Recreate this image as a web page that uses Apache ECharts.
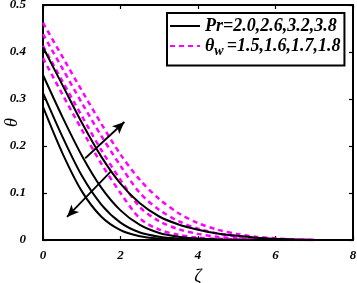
<!DOCTYPE html>
<html><head><meta charset="utf-8">
<script src="https://cdn.jsdelivr.net/npm/echarts@6/dist/echarts.min.js"></script>
<style>html,body{margin:0;padding:0;background:#fff}#c{width:357px;height:283px}</style>
</head><body><div id="c"></div>
<script>
const zeta = [0,0.5,1,1.5,2,2.5,3,3.5,4,4.5,5,5.5,6,6.5,7];
// black solid: Pr = 2.0, 2.6, 3.2, 3.8
const prA = [0.410,0.330,0.250,0.178,0.120,0.078,0.050,0.033,0.022,0.014,0.009,0.005,0.0025,0.001,0];
const prB = [0.351,0.262,0.180,0.112,0.063,0.032,0.015,0.007,0.003,0.0013,0.0005,0.0002,0,0,0];
const prC = [0.313,0.220,0.137,0.076,0.037,0.016,0.007,0.003,0.001,0.0004,0,0,0,0,0];
const prD = [0.283,0.185,0.104,0.050,0.021,0.008,0.003,0.001,0.0004,0.0001,0,0,0,0,0];
// magenta dashed: theta_w = 1.5, 1.6, 1.7, 1.8
const twA = [0.387,0.310,0.235,0.163,0.100,0.046,0.022,0.011,0.005,0.0025,0.0012,0.0006,0.0003,0.0001,0];
const twB = [0.413,0.338,0.264,0.192,0.128,0.070,0.040,0.023,0.013,0.007,0.0035,0.0018,0.0009,0.0003,0];
const twC = [0.438,0.365,0.292,0.222,0.158,0.100,0.064,0.040,0.024,0.014,0.008,0.004,0.002,0.0007,0];
const twD = [0.462,0.390,0.318,0.248,0.182,0.128,0.087,0.057,0.036,0.022,0.013,0.007,0.0035,0.0012,0];
const xTicks = [0,2,4,6,8];
const yTicks = [0,0.1,0.2,0.3,0.4,0.5];
const legendPr = 'Pr=2.0,2.6,3.2,3.8';
const legendTw = '=1.5,1.6,1.7,1.8';
// arrows in data coordinates
const arrowUp = [[1.09,0.174],[2.10,0.251]];
const arrowDown = [[1.74,0.145],[0.62,0.049]];

const pairs = a => zeta.map((z,i)=>[z,a[i]]);
const font = {fontFamily:'Liberation Serif', fontWeight:'bold', fontStyle:'italic', color:'#000'};
const blackStyle = {color:'#000', width:2, type:'solid'};
const magStyle = {color:'#ff00ff', width:2.5, type:[5,4]};
const mk = (name,data,ls,z) => ({name, type:'line', data:pairs(data), showSymbol:false, symbol:'none', smooth:0.3, lineStyle:ls, itemStyle:{color:ls.color}, z, animation:false});
const arrowLine = pts => ({silent:true, symbol:['none','arrow'], symbolSize:[8,12], lineStyle:{color:'#000', width:1.8, type:'solid'}, label:{show:false},
  data:[[{coord:pts[0]},{coord:pts[1]}]]});

const chart = echarts.init(document.getElementById('c'), null, {renderer:'canvas'});
const axisCommon = {axisLine:{show:true, onZero:false, lineStyle:{color:'#000', width:2}}, axisTick:{show:true, inside:true, length:4, lineStyle:{color:'#000', width:1.2}}, splitLine:{show:false}};
chart.setOption({
  animation:false,
  backgroundColor:'#fff',
  grid:{left:43, right:4, top:5, bottom:43, containLabel:false, outerBoundsMode:'none'},
  xAxis:[
    Object.assign({type:'value', min:0, max:8, interval:2, position:'bottom', name:'ζ', nameLocation:'middle', nameGap:28, nameMoveOverlap:false,
      nameTextStyle:{fontFamily:'Liberation Serif', fontStyle:'italic', fontSize:18, color:'#000'},
      axisLabel:Object.assign({fontSize:13, margin:9, formatter:v=>xTicks.includes(v)?String(v):''}, font)}, axisCommon),
    Object.assign({type:'value', min:0, max:8, interval:2, position:'top', axisLabel:{show:false}}, axisCommon)
  ],
  yAxis:[
    Object.assign({type:'value', min:0, max:0.5, interval:0.1, position:'left', name:'θ', nameLocation:'middle', nameGap:22, nameRotate:90, nameMoveOverlap:false,
      nameTextStyle:{fontFamily:'Liberation Serif', fontStyle:'italic', fontSize:18, color:'#000'},
      axisLabel:Object.assign({fontSize:13, margin:17, formatter:v=>{const t=yTicks.find(q=>Math.abs(q-v)<1e-9);return t===undefined?'':(t===0?'0':String(t));}}, font)}, axisCommon),
    Object.assign({type:'value', min:0, max:0.5, interval:0.1, position:'right', axisLabel:{show:false}}, axisCommon)
  ],
  legend:{
    orient:'vertical', left:167, top:13,
    data:['pr','tw'],
    backgroundColor:'#fff', borderColor:'#000', borderWidth:2, borderRadius:0,
    padding:[4,4,7,2], itemGap:2, itemWidth:30, itemHeight:12,
    itemStyle:{opacity:0},
    formatter: n => n==='pr' ? '{t|'+legendPr+'}' : '{t|θ}{s|w}{t|'+legendTw+'}',
    textStyle:{rich:{
      t:{fontFamily:'Liberation Serif', fontWeight:'bold', fontStyle:'italic', fontSize:18, color:'#000', lineHeight:25, verticalAlign:'middle'},
      s:{fontFamily:'Liberation Serif', fontWeight:'bold', fontStyle:'italic', fontSize:14, color:'#000', lineHeight:9, verticalAlign:'bottom', padding:[0,3,0,0]}
    }}
  },
  series:[
    Object.assign(mk('pr',prA,blackStyle,3),{markLine:arrowLine(arrowUp)}),
    mk('pr',prB,blackStyle,3),
    Object.assign(mk('pr',prC,blackStyle,3),{markLine:arrowLine(arrowDown)}),
    mk('pr',prD,blackStyle,3),
    mk('tw',twA,magStyle,2),
    mk('tw',twB,magStyle,2),
    mk('tw',twC,magStyle,2),
    mk('tw',twD,magStyle,2)
  ]
});
</script></body></html>
